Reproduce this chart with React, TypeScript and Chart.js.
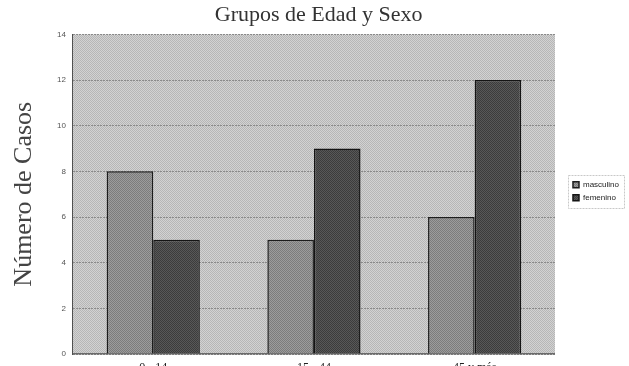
import React, { useEffect, useRef } from 'react';
import { Chart, registerables } from 'chart.js';

Chart.register(...registerables);

const categories = ['0 - 14', '15 - 44', '45 y más'];
const masculino = [8, 5, 6];
const femenino = [5, 9, 12];
const seriesNames = ['masculino', 'femenino'];
const yMin = 0;
const yMax = 14;
const yStep = 2;

function makePattern(base: number, delta: number): CanvasPattern | string {
  const c = document.createElement('canvas');
  c.width = 2;
  c.height = 2;
  const ctx = c.getContext('2d');
  if (!ctx) return `rgb(${base},${base},${base})`;
  const a = Math.min(255, base + delta);
  const b = Math.max(0, base - delta);
  ctx.fillStyle = `rgb(${a},${a},${a})`;
  ctx.fillRect(0, 0, 2, 2);
  ctx.fillStyle = `rgb(${b},${b},${b})`;
  ctx.fillRect(0, 0, 1, 1);
  ctx.fillRect(1, 1, 1, 1);
  const p = ctx.createPattern(c, 'repeat');
  return p || `rgb(${base},${base},${base})`;
}

export default function App() {
  const ref = useRef<HTMLCanvasElement | null>(null);

  useEffect(() => {
    document.body.style.margin = '0';
    const canvas = ref.current;
    if (!canvas) return;

    const plotBg = makePattern(196, 14);
    const lightFill = makePattern(140, 16);
    const darkFill = makePattern(74, 14);

    const plotBackground = {
      id: 'plotBackground',
      beforeDraw(chart: any) {
        const { ctx, chartArea } = chart;
        if (!chartArea) return;
        ctx.save();
        ctx.fillStyle = plotBg;
        ctx.fillRect(chartArea.left, chartArea.top, chartArea.right - chartArea.left, chartArea.bottom - chartArea.top);
        ctx.restore();
      },
    };

    const legendFrame = {
      id: 'legendFrame',
      afterDraw(chart: any) {
        const boxes = chart.legend && chart.legend.legendHitBoxes;
        if (!boxes || !boxes.length) return;
        let l = Infinity, t = Infinity, r = -Infinity, b = -Infinity;
        boxes.forEach((h: any) => {
          l = Math.min(l, h.left);
          t = Math.min(t, h.top);
          r = Math.max(r, h.left + h.width);
          b = Math.max(b, h.top + h.height);
        });
        const ctx = chart.ctx;
        ctx.save();
        ctx.strokeStyle = '#c8c8c8';
        ctx.lineWidth = 1;
        ctx.setLineDash([2, 1]);
        ctx.strokeRect(Math.round(l - 5) + 0.5, Math.round(t - 6) + 0.5, Math.round(r - l + 10), Math.round(b - t + 12));
        ctx.restore();
      },
    };

    const chart = new Chart(canvas, {
      type: 'bar',
      data: {
        labels: categories,
        datasets: [
          {
            label: seriesNames[0],
            data: masculino,
            backgroundColor: lightFill as any,
            borderColor: '#1c1c1c',
            borderWidth: 1.5,
            categoryPercentage: 0.58,
            barPercentage: 1.0,
          },
          {
            label: seriesNames[1],
            data: femenino,
            backgroundColor: darkFill as any,
            borderColor: '#141414',
            borderWidth: 1.5,
            categoryPercentage: 0.58,
            barPercentage: 1.0,
          },
        ],
      },
      options: {
        responsive: false,
        animation: false,
        layout: { padding: { left: 8.4, right: 0, top: 0, bottom: 0.6 } },
        plugins: {
          title: {
            display: true,
            text: 'Grupos de Edad y Sexo',
            color: '#333',
            font: { family: "'Liberation Serif', serif", size: 22, weight: 'normal' as any },
            padding: { top: 2, bottom: 6 },
          },
          legend: {
            position: 'right',
            labels: {
              boxWidth: 6,
              boxHeight: 6,
              padding: 5,
              color: '#222',
              font: { family: "'Liberation Sans', Arial, sans-serif", size: 8 },
            },
          },
          tooltip: { enabled: false },
        },
        scales: {
          x: {
            grid: { display: false, drawTicks: false },
            border: { display: true, color: '#6a6a6a', width: 1.5 },
            ticks: {
              color: '#222',
              padding: 7,
              maxRotation: 0,
              font: { family: "'Liberation Serif', serif", size: 12 },
            },
          },
          y: {
            min: yMin,
            max: yMax,
            ticks: {
              stepSize: yStep,
              color: '#555',
              padding: 7,
              font: { family: "'Liberation Sans', Arial, sans-serif", size: 8 },
            },
            grid: { color: '#8a8a8a', drawTicks: false, lineWidth: 1 },
            border: { display: true, color: '#505050', dash: [2, 1] },
            title: {
              display: true,
              text: 'Número de Casos',
              color: '#444',
              font: { family: "'Liberation Serif', serif", size: 26, weight: 'normal' as any },
              padding: { top: 0, bottom: 10.4 },
            },
          },
          yr: {
            type: 'linear',
            position: 'right',
            display: true,
            grid: { display: false },
            border: { display: false },
            ticks: { display: false },
            afterFit(scale: any) {
              scale.width = 13;
            },
          },
        },
      },
      plugins: [plotBackground, legendFrame],
    });

    return () => {
      chart.destroy();
    };
  }, []);

  return (
    <div style={{ width: 629, height: 366, background: '#fff', overflow: 'hidden' }}>
      <canvas ref={ref} width={629} height={383} style={{ display: 'block' }} />
    </div>
  );
}
